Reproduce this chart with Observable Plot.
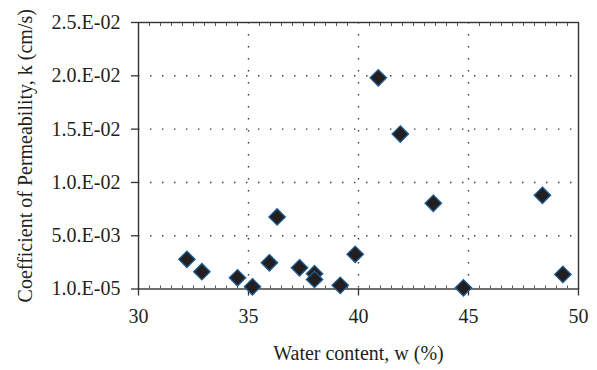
<!DOCTYPE html>
<html>
<head>
<meta charset="utf-8">
<script src="https://cdn.jsdelivr.net/npm/d3@7"></script>
<script src="https://cdn.jsdelivr.net/npm/@observablehq/plot@0.6"></script>
<style>
  html, body { margin: 0; padding: 0; background: #fff; }
  #chart { width: 597px; height: 370px; }
</style>
</head>
<body>
<div id="chart"></div>
<script>
// Water content (%) and coefficient of permeability (cm/s)
const waterContent = [32.2, 32.88, 34.5, 35.18, 35.95, 36.3, 37.32, 38.0, 38.0, 39.17, 39.85, 40.9, 41.9, 43.4, 44.77, 48.36, 49.29];
const permeability = [0.00279, 0.00163, 0.00106, 0.00022, 0.00247, 0.00677, 0.0020, 0.00144, 0.00091, 0.00035, 0.00326, 0.01981, 0.01454, 0.00805, 0.00012, 0.0088, 0.00138];

const xTicks = [30, 35, 40, 45, 50];
const xMinorTicks = d3.range(30, 50.001, 0.5).filter(v => v % 5 !== 0);
const yTicks = [0.00001, 0.005, 0.01, 0.015, 0.02, 0.025];
const yTickLabels = ["1.0.E-05", "5.0.E-03", "1.0.E-02", "1.5.E-02", "2.0.E-02", "2.5.E-02"];

const xTitle = "Water content, w (%)";
const yTitle = "Coefficient of Permeability, k (cm/s)";

const data = waterContent.map((w, i) => ({w, k: permeability[i]}));
const ink = "#231f20";
const dotted = "1.4,10.6";

const chart = Plot.plot({
  width: 597,
  height: 370,
  marginLeft: 138,
  marginRight: 19,
  marginTop: 22,
  marginBottom: 81.5,
  style: {fontFamily: "'Liberation Serif', 'DejaVu Serif', serif", fontSize: "20px", color: ink, background: "#fff"},
  x: {domain: [30, 50]},
  y: {domain: [0.00001, 0.025]},
  marks: [
    Plot.gridY(yTicks.slice(1, -1), {stroke: "#222", strokeOpacity: 0.9, strokeWidth: 1.4, strokeDasharray: dotted}),
    Plot.gridX(xTicks.slice(1, -1), {stroke: "#222", strokeOpacity: 0.9, strokeWidth: 1.4, strokeDasharray: dotted}),
    Plot.frame({stroke: "#333", strokeWidth: 1.4}),
    Plot.axisX(xMinorTicks, {anchor: "bottom", tickSize: -3, text: null, label: null, stroke: "#555"}),
    Plot.axisX(xMinorTicks, {anchor: "top", tickSize: -3, text: null, label: null, stroke: "#555"}),
    Plot.axisX(xTicks, {
      anchor: "bottom", tickSize: 7, tickPadding: 13, fontSize: 20, stroke: "#333", strokeWidth: 1.3,
      label: xTitle, labelAnchor: "center", labelArrow: "none", labelOffset: 71
    }),
    Plot.axisY(yTicks, {
      anchor: "left", tickSize: 7, tickPadding: 11, fontSize: 20, stroke: "#333", strokeWidth: 1.3,
      tickFormat: (d, i) => yTickLabels[i],
      label: yTitle, labelAnchor: "center", labelArrow: "none", labelOffset: 121
    }),
    Plot.dot(data, {x: "w", y: "k", symbol: "diamond2", r: 7.4, fill: ink, stroke: "#1d5d92", strokeWidth: 1.3})
  ]
});
document.getElementById("chart").appendChild(chart);
</script>
</body>
</html>
